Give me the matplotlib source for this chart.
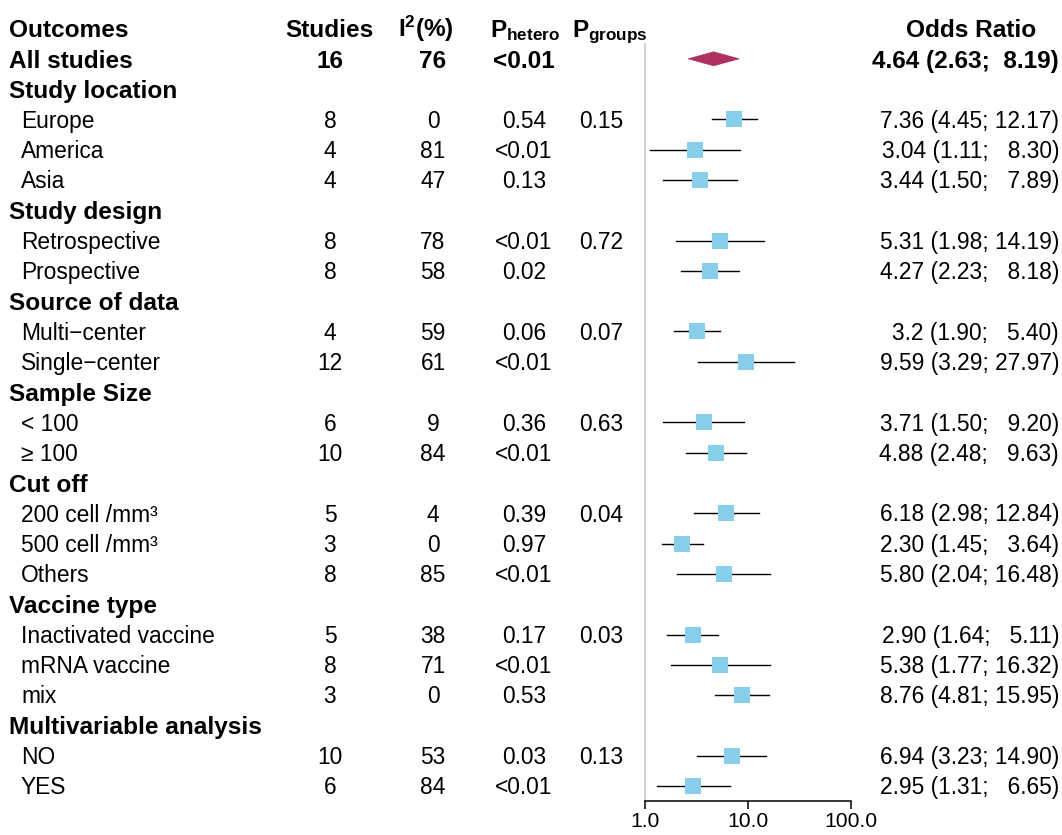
import matplotlib
matplotlib.use("Agg")
import matplotlib.pyplot as plt
from matplotlib.patches import Polygon

plt.rcParams['font.family'] = ['Liberation Sans', 'DejaVu Sans']
plt.rcParams['mathtext.fontset'] = 'custom'
plt.rcParams['mathtext.rm'] = 'Liberation Sans'
plt.rcParams['mathtext.bf'] = 'Liberation Sans:bold'
plt.rcParams['mathtext.it'] = 'Liberation Sans:italic'

# ---------------- data ----------------
overall_studies = 16
overall_i2 = 76
overall_phet = "<0.01"
overall_or = 4.64
overall_lo = 2.63
overall_hi = 8.19

group_titles = ["Study location", "Study design", "Source of data", "Sample Size",
                "Cut off", "Vaccine type", "Multivariable analysis"]
group_sizes = [3, 2, 2, 2, 3, 3, 2]
p_groups = ["0.15", "0.72", "0.07", "0.63", "0.04", "0.03", "0.13"]

subgroups = ["Europe", "America", "Asia",
             "Retrospective", "Prospective",
             "Multi\u2212center", "Single\u2212center",
             "< 100", "\u2265 100",
             "200 cell /mm\u00b3", "500 cell /mm\u00b3", "Others",
             "Inactivated vaccine", "mRNA vaccine", "mix",
             "NO", "YES"]
studies = [8, 4, 4, 8, 8, 4, 12, 6, 10, 5, 3, 8, 5, 8, 3, 10, 6]
i2 = [0, 81, 47, 78, 58, 59, 61, 9, 84, 4, 0, 85, 38, 71, 0, 53, 84]
p_hetero = ["0.54", "<0.01", "0.13", "<0.01", "0.02", "0.06", "<0.01", "0.36", "<0.01",
            "0.39", "0.97", "<0.01", "0.17", "<0.01", "0.53", "0.03", "<0.01"]
or_est = [7.36, 3.04, 3.44, 5.31, 4.27, 3.2, 9.59, 3.71, 4.88, 6.18, 2.30, 5.80,
          2.90, 5.38, 8.76, 6.94, 2.95]
or_est_txt = ["7.36", "3.04", "3.44", "5.31", "4.27", "3.2", "9.59", "3.71", "4.88",
              "6.18", "2.30", "5.80", "2.90", "5.38", "8.76", "6.94", "2.95"]
or_lo = [4.45, 1.11, 1.50, 1.98, 2.23, 1.90, 3.29, 1.50, 2.48, 2.98, 1.45, 2.04,
         1.64, 1.77, 4.81, 3.23, 1.31]
or_hi = [12.17, 8.30, 7.89, 14.19, 8.18, 5.40, 27.97, 9.20, 9.63, 12.84, 3.64, 16.48,
         5.11, 16.32, 15.95, 14.90, 6.65]
x_ticks = [1, 10, 100]
x_ticklabels = ["1.0", "10.0", "100.0"]

# ---------------- layout ----------------
W, H = 1062, 835
fig = plt.figure(figsize=(W / 100, H / 100), dpi=100)

ROW0 = 28.5      # pixel centre of header row
DY = 30.3        # row spacing in pixels
AX_BOTTOM = 801  # pixel y of axis line
X1, X100 = 645, 851

# text axes in pixel coordinates
tax = fig.add_axes([0, 0, 1, 1])
tax.set_xlim(0, W)
tax.set_ylim(H, 0)
tax.axis("off")

# forest axes
fax = fig.add_axes([X1 / W, (H - AX_BOTTOM) / H, (X100 - X1) / W, AX_BOTTOM / H])
fax.set_xscale("log")
fax.set_xlim(1, 100)
r_top = (0 - ROW0) / DY
r_bot = (AX_BOTTOM - ROW0) / DY
fax.set_ylim(r_bot, r_top)
fax.patch.set_alpha(0)
for s in ["top", "right", "left"]:
    fax.spines[s].set_visible(False)
fax.spines["bottom"].set_linewidth(1.1)
fax.set_yticks([])
fax.set_xticks(x_ticks)
fax.set_xticklabels(x_ticklabels, fontsize=15.2)
fax.minorticks_off()
fax.tick_params(axis="x", length=6.0, width=1.1, pad=2)

BOLD = 17.6
REG = 16.4

def baseline(r, bold=False):
    return ROW0 + DY * r + (8.8 if bold else 8.2)

X_LABEL_B = 9
X_LABEL_R = 21
X_STUD = 330
X_I2 = 433
X_PHET = 524
X_PGRP = 601
X_OR = 1059

# header
hb = baseline(0, True)
tax.text(X_LABEL_B, hb, "Outcomes", fontsize=BOLD, fontweight="bold", va="baseline")
tax.text(329.5, hb, "Studies", fontsize=BOLD, fontweight="bold", va="baseline", ha="center")
tax.text(426, hb, r"$\mathbf{I^2(\%)}$", fontsize=BOLD, va="baseline", ha="center")
tax.text(525, hb, r"$\mathbf{P_{hetero}}$", fontsize=BOLD, va="baseline", ha="center")
tax.text(610, hb, r"$\mathbf{P_{groups}}$", fontsize=BOLD, va="baseline", ha="center")
tax.text(971, hb, "Odds Ratio", fontsize=BOLD, fontweight="bold", va="baseline", ha="center")

# overall
ob = baseline(1, True)
tax.text(X_LABEL_B, ob, "All studies", fontsize=BOLD, fontweight="bold", va="baseline")
tax.text(X_STUD, ob, str(overall_studies), fontsize=BOLD, fontweight="bold", va="baseline", ha="center")
tax.text(X_I2, ob, str(overall_i2), fontsize=BOLD, fontweight="bold", va="baseline", ha="center")
tax.text(X_PHET, ob, overall_phet, fontsize=BOLD, fontweight="bold", va="baseline", ha="center")

def or_text(e, lo, hi, pad_spaces):
    hs = f"{hi:.2f}"
    pad = " " * (pad_spaces if len(hs) < 5 else 0)
    return f"{e} ({lo:.2f}; {pad}{hs})"

tax.text(X_OR, ob, or_text(f"{overall_or:.2f}", overall_lo, overall_hi, 1),
         fontsize=BOLD, fontweight="bold", va="baseline", ha="right")

dh = 7.0 / DY
fax.add_patch(Polygon([[overall_lo, 1], [overall_or, 1 - dh], [overall_hi, 1], [overall_or, 1 + dh]],
                      closed=True, facecolor="#B03060", edgecolor="#B03060", lw=0.5, clip_on=False))

# reference line
fax.vlines(1, (43 - ROW0) / DY, r_bot, color="#c8c8c8", lw=1.1, clip_on=False, zorder=0)

# subgroups
r = 2
k = 0
for g, title in enumerate(group_titles):
    tax.text(X_LABEL_B, baseline(r, True), title, fontsize=BOLD, fontweight="bold", va="baseline")
    r += 1
    for j in range(group_sizes[g]):
        b = baseline(r)
        tax.text(X_LABEL_R, b, subgroups[k], fontsize=REG, va="baseline")
        tax.text(X_STUD, b, str(studies[k]), fontsize=REG, va="baseline", ha="center")
        tax.text(X_I2, b, str(i2[k]), fontsize=REG, va="baseline", ha="center")
        tax.text(X_PHET, b, p_hetero[k], fontsize=REG, va="baseline", ha="center")
        if j == 0:
            tax.text(X_PGRP, b, p_groups[g], fontsize=REG, va="baseline", ha="center")
        tax.text(X_OR, b, or_text(or_est_txt[k], or_lo[k], or_hi[k], 2),
                 fontsize=REG, va="baseline", ha="right")
        fax.plot([or_lo[k], or_hi[k]], [r, r], color="black", lw=1.0, clip_on=False, zorder=2)
        fax.plot([or_est[k]], [r], marker="s", markersize=12, color="#87CEEB",
                 markeredgewidth=0, clip_on=False, zorder=3)
        r += 1
        k += 1

fig.savefig("out.png", dpi=100)
